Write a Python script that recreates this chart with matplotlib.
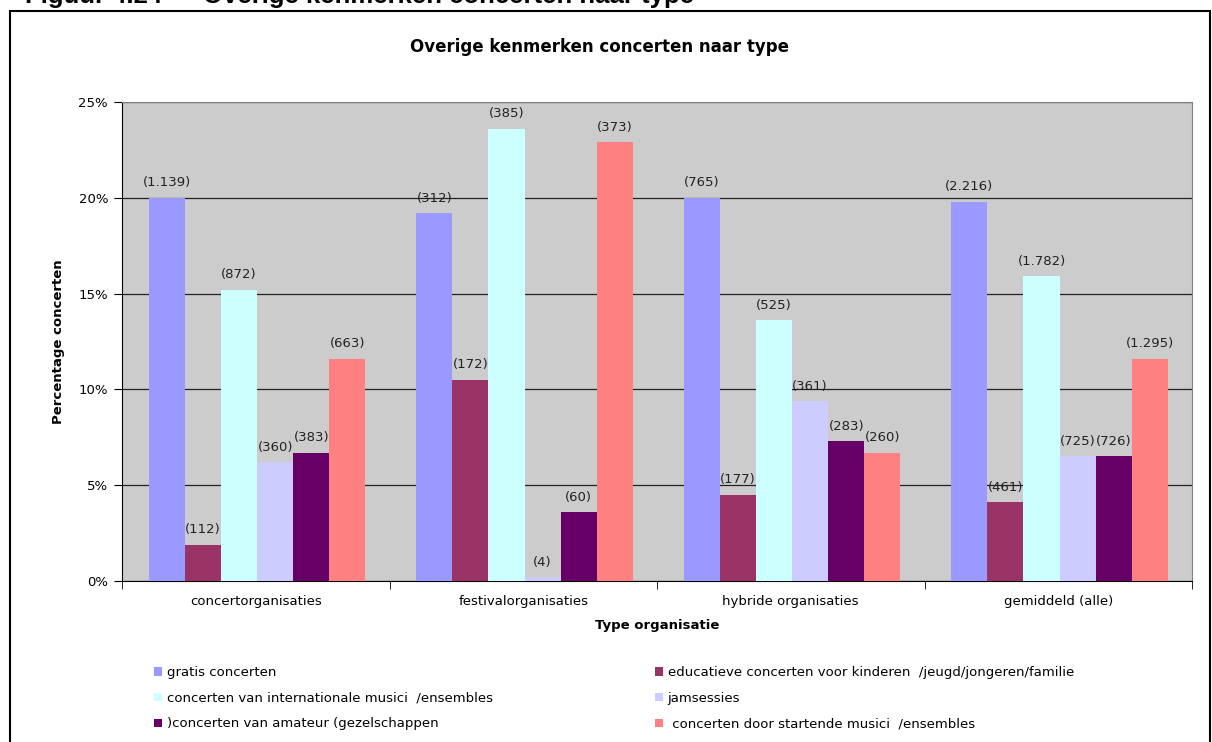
from matplotlib import pyplot as plt
from matplotlib.patches import Rectangle
import numpy as np

# data
categories = ['concertorganisaties', 'festivalorganisaties',
              'hybride organisaties', 'gemiddeld (alle)']
series_names = ['gratis concerten',
                'educatieve concerten voor kinderen  /jeugd/jongeren/familie',
                'concerten van internationale musici  /ensembles',
                'jamsessies',
                ')concerten van amateur (gezelschappen',
                ' concerten door startende musici  /ensembles']
series_colors = ['#9999FF', '#993366', '#CCFFFF', '#CCCCFF', '#660066', '#FF8080']

gratis = [20.0, 19.2, 20.0, 19.8]
educatief = [1.9, 10.5, 4.5, 4.1]
internationaal = [15.2, 23.6, 13.6, 15.9]
jamsessies = [6.2, 0.2, 9.4, 6.5]
amateur = [6.7, 3.6, 7.3, 6.5]
startend = [11.6, 22.9, 6.7, 11.6]

n_gratis = [1139, 312, 765, 2216]
n_educatief = [112, 172, 177, 461]
n_internationaal = [872, 385, 525, 1782]
n_jamsessies = [360, 4, 361, 725]
n_amateur = [383, 60, 283, 726]
n_startend = [663, 373, 260, 1295]

values = [gratis, educatief, internationaal, jamsessies, amateur, startend]
counts = [n_gratis, n_educatief, n_internationaal, n_jamsessies, n_amateur, n_startend]


def fmt_count(n):
    return '(' + f'{n:,}'.replace(',', '.') + ')'


fig = plt.figure(figsize=(12.12, 7.42), dpi=100)
ax = fig.add_axes([122 / 1212, 1 - 581 / 742, 1070 / 1212, 479 / 742])
ax.set_facecolor('#CCCCCC')

x = np.arange(len(categories))
width = 0.135
handles = []
for i, (vals, cnts) in enumerate(zip(values, counts)):
    pos = x + (i - 2.5) * width + 0.005
    bars = ax.bar(pos, vals, width, color=series_colors[i], label=series_names[i],
                  zorder=3)
    handles.append(bars)
    for p, v, c in zip(pos, vals, cnts):
        ax.annotate(fmt_count(c), (p, v), xytext=(0, 6), textcoords='offset points',
                    ha='center', va='bottom', fontsize=9.5, color='#222222', zorder=4)

ax.set_xlim(-0.5, 3.5)
ax.set_ylim(0, 25)
ax.set_yticks([0, 5, 10, 15, 20, 25])
ax.set_yticklabels(['0%', '5%', '10%', '15%', '20%', '25%'], fontsize=9.5)
ax.set_xticks(x)
ax.set_xticklabels(categories, fontsize=9.5)
ax.tick_params(axis='x', length=0, pad=10)
ax.set_xticks([-0.5, 0.5, 1.5, 2.5, 3.5], minor=True)
ax.tick_params(axis='x', which='minor', length=6, direction='out')
ax.tick_params(axis='y', length=6, direction='out', pad=4)
ax.grid(axis='y', color='#222222', linewidth=0.9, zorder=1)
for s in ['top', 'right']:
    ax.spines[s].set_color('#808080')
for s in ['left', 'bottom']:
    ax.spines[s].set_color('black')

ax.set_xlabel('Type organisatie', fontsize=9.5, fontweight='bold', labelpad=8)
ax.set_ylabel('Percentage concerten', fontsize=9.5, fontweight='bold', labelpad=10)

fig.text(600 / 1212, 1 - 47 / 742, 'Overige kenmerken concerten naar type',
         ha='center', va='center', fontsize=12, fontweight='bold')

# figure caption, clipped by the top edge as in the source
caption_style = dict(ha='left', va='baseline', fontsize=18.5, fontweight='bold',
                     family='Liberation Sans')
fig.text(25 / 1212, 1 - 3 / 742, 'Figuur 4.24', **caption_style)
fig.text(172 / 1212, 1 - 3 / 742, '\u2013', **caption_style)
fig.text(203 / 1212, 1 - 3 / 742, 'Overige kenmerken concerten naar type',
         **caption_style)

# frame around the chart
fig.patches.append(Rectangle((10 / 1212, -0.01), 1200 / 1212, 1 - 11 / 742 + 0.01,
                             transform=fig.transFigure, fill=False,
                             edgecolor='black', linewidth=1.5))

order = [0, 2, 4, 1, 3, 5]
fig.legend([handles[k] for k in order], [series_names[k] for k in order],
           ncol=2, loc='upper left', bbox_to_anchor=(149 / 1212, 1 - 661 / 742),
           frameon=False, fontsize=9.5, handlelength=0.6, handleheight=0.6,
           handletextpad=0.35, columnspacing=12.3, labelspacing=0.95,
           borderaxespad=0)

fig.savefig('out.png', dpi=100)
